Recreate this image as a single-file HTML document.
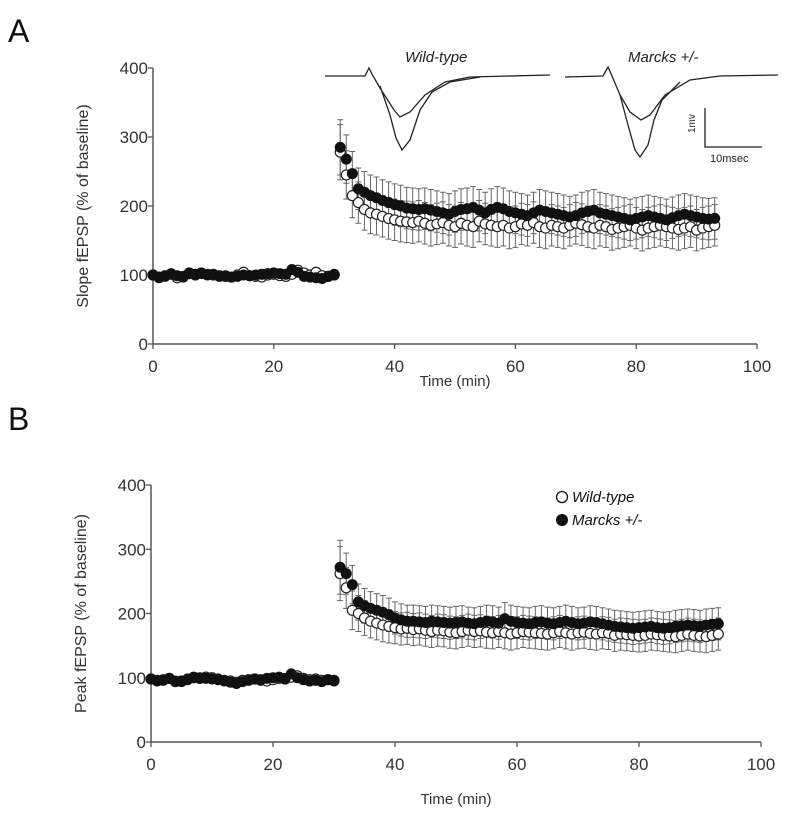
<!DOCTYPE html>
<html><head><meta charset="utf-8"><style>
body{margin:0;background:#fff;}
svg{display:block;font-family:"Liberation Sans",Arial,sans-serif;}
</style></head><body>
<svg id="chart" width="800" height="817" viewBox="0 0 800 817" xmlns="http://www.w3.org/2000/svg">
<text x="8" y="42" font-size="32" fill="#111">A</text>
<text x="8" y="430" font-size="32" fill="#111">B</text>
<g id="traces" fill="none" stroke="#222" stroke-width="1.3">
<text x="405" y="62" font-size="15" font-style="italic" fill="#222" stroke="none">Wild-type</text>
<text x="628" y="62" font-size="15" font-style="italic" fill="#222" stroke="none">Marcks +/-</text>
<path d="M325 76 L365 76 L369 68 L373 76 L380 88 L394 110 L400 117 L410 112 L425 95 L445 82 L470 77 L550 75"/>
<path d="M380 86 L390 115 L396 138 L402 150 L410 140 L420 110 L432 92 L450 82 L480 77"/>
<path d="M565 77 L603 76 L608 67 L612 76 L620 95 L630 112 L641 120 L650 115 L665 95 L690 80 L720 76 L778 75"/>
<path d="M620 95 L628 125 L635 150 L640 157 L648 145 L654 120 L662 100 L680 82"/>
<path d="M705 108 L705 147 L762 147"/>
<text x="695" y="133" font-size="10" fill="#222" stroke="none" transform="rotate(-90 695 133)">1mv</text>
<text x="710" y="162" font-size="11" fill="#222" stroke="none">10msec</text>
</g>
<g id="legend">
<circle cx="562" cy="497" r="5.5" fill="#fff" stroke="#111" stroke-width="1.3"/>
<text x="572" y="502" font-size="15" font-style="italic" fill="#111">Wild-type</text>
<circle cx="562" cy="520" r="6" fill="#111"/>
<text x="572" y="525" font-size="15" font-style="italic" fill="#111">Marcks +/-</text>
</g>
</svg>
<script>
const xTicks=[0,20,40,60,80,100];
const yTicks=[0,100,200,300,400];
const baseTime=[0,1,2,3,4,5,6,7,8,9,10,11,12,13,14,15,16,17,18,19,20,21,22,23,24,25,26,27,28,29,30];
const postTime=[31,32,33,34,35,36,37,38,39,40,41,42,43,44,45,46,47,48,49,50,51,52,53,54,55,56,57,58,59,60,61,62,63,64,65,66,67,68,69,70,71,72,73,74,75,76,77,78,79,80,81,82,83,84,85,86,87,88,89,90,91,92,93];
const aWtBase=[100,97,99,101,96,98,102,100,103,101,100,99,98,97,100,104,99,98,97,100,101,99,98,101,107,103,100,104,99,98,100];
const aMkBase=[100,96,98,102,99,97,103,101,102,100,101,98,99,97,98,100,99,100,101,102,103,102,101,108,104,98,97,96,95,98,101];
const aWtPost=[278,245,215,205,195,190,188,185,182,180,178,177,176,178,175,172,174,176,172,170,175,172,170,178,174,172,170,172,168,170,174,172,176,170,168,172,170,168,172,175,173,170,168,172,170,166,168,170,172,168,165,168,170,172,170,168,166,168,170,165,168,170,172];
const aMkPost=[285,268,247,225,220,215,212,208,205,202,200,197,196,195,196,194,192,190,188,192,195,196,198,194,190,195,198,196,192,190,188,186,190,194,192,190,188,186,184,186,190,192,194,190,188,186,184,182,180,182,184,186,184,182,180,183,186,188,186,184,182,181,182];
const bWtBase=[98,96,97,99,94,95,98,100,99,101,100,98,96,95,93,96,97,98,96,95,97,99,98,101,103,99,97,98,96,97,96];
const bMkBase=[98,95,96,99,95,94,97,101,100,99,98,97,95,93,91,94,96,98,97,99,100,101,99,106,100,97,95,96,94,97,95];
const bWtPost=[262,240,205,200,193,188,185,182,180,178,176,177,175,176,174,172,174,173,171,170,172,174,172,173,171,170,172,170,168,170,172,171,170,169,168,170,172,170,168,170,171,169,168,170,169,166,168,167,166,165,166,168,167,166,165,164,166,168,166,165,164,166,168];
const bMkPost=[272,262,245,218,212,208,205,202,198,193,190,188,188,187,186,188,187,186,185,186,187,185,184,186,188,187,185,192,188,186,185,184,186,187,185,184,186,188,186,184,185,187,186,184,182,180,179,178,177,178,179,180,178,177,178,180,181,182,181,180,182,183,184];
const aErr=[40,35,32,30,30,30,30,30,30,30,30,30,30,30,30,30,30,30,30,30,30,30,30,30,30,30,30,30,30,30,30,30,30,30,30,30,30,30,30,30,30,30,30,30,30,30,30,30,30,30,30,30,30,30,30,30,30,30,30,30,30,30,30];
const bErr=[42,32,30,28,27,26,26,26,26,25,25,25,25,25,25,25,25,25,25,25,25,25,25,25,25,25,25,25,25,25,25,25,25,25,25,25,25,25,25,25,25,25,25,25,25,25,25,25,25,25,25,25,25,25,25,25,25,25,25,25,25,25,25];

const NS="http://www.w3.org/2000/svg";
const svg=document.getElementById('chart');
function mk(tag,attrs,parent){const e=document.createElementNS(NS,tag);for(const k in attrs)e.setAttribute(k,attrs[k]);(parent||svg).appendChild(e);return e;}

function panel(id,x0,x100,y0,y400,wB,mB,wP,mP,err,ylab,titleOff){
  const X=t=>x0+(x100-x0)*t/100, Y=v=>y0+(y400-y0)*v/400;
  const g=mk('g',{});
  
  
  const ax=mk('path',{d:`M${x0} ${Y(400)} L${x0} ${y0} L${X(100)} ${y0}`,stroke:'#555','stroke-width':1.5,fill:'none'},g);
  
  
  xTicks.forEach(t=>{
    const l=mk('line',{x1:X(t),x2:X(t),y1:y0,y2:y0+5,stroke:'#555','stroke-width':1.3},g);
    
    
    const tx=mk('text',{x:X(t),y:y0+28,'font-size':17,'text-anchor':'middle',fill:'#333'},g);tx.textContent=t;
    
    
  });
  yTicks.forEach(v=>{
    const l=mk('line',{x1:x0-5,x2:x0,y1:Y(v),y2:Y(v),stroke:'#555','stroke-width':1.3},g);
    
    
    const tx=mk('text',{x:x0-5,y:Y(v)+6,'font-size':17,'text-anchor':'end',fill:'#333'},g);tx.textContent=v;
    
    
  });
  const xl=mk('text',{x:X(50),y:y0+titleOff,'font-size':15,'text-anchor':'middle',fill:'#333'},g);xl.textContent='Time (min)';
  
  
  const yx=x0-65, yy=Y(200);
  const yl=mk('text',{x:yx,y:yy,'font-size':16,'text-anchor':'middle',fill:'#333',transform:`rotate(-90 ${yx} ${yy})`},g);yl.textContent=ylab;
  
  
  postTime.forEach((t,i)=>{
    [wP[i],mP[i]].forEach(v=>{
      const e=mk('path',{d:`M${X(t)} ${Y(v-err[i])} L${X(t)} ${Y(v+err[i])} M${X(t)-3} ${Y(v+err[i])} L${X(t)+3} ${Y(v+err[i])} M${X(t)-3} ${Y(v-err[i])} L${X(t)+3} ${Y(v-err[i])}`,stroke:'#666','stroke-width':1,fill:'none'},g);
      
      
    });
  });
  baseTime.forEach((t,i)=>{
    const e=mk('line',{x1:X(t),x2:X(t),y1:Y(wB[i]-6),y2:Y(wB[i]+6),stroke:'#555','stroke-width':1},g);
    
    
  });
  const times=baseTime.concat(postTime), wt=wB.concat(wP), mkv=mB.concat(mP);
  times.forEach((t,i)=>{
    const c=mk('circle',{cx:X(t),cy:Y(wt[i]),r:5,fill:'#fff',stroke:'#222','stroke-width':1.2},g);
    
    
  });
  times.forEach((t,i)=>{
    const c=mk('circle',{cx:X(t),cy:Y(mkv[i]),r:5.5,fill:'#111'},g);
    
    
  });
}
panel('panel-a-slope',153,757,344,68,aWtBase,aMkBase,aWtPost,aMkPost,aErr,'Slope fEPSP (% of baseline)',42);
panel('panel-b-peak',151,761,742,485,bWtBase,bMkBase,bWtPost,bMkPost,bErr,'Peak fEPSP (% of baseline)',62);
svg.appendChild(document.getElementById('traces'));
svg.appendChild(document.getElementById('legend'));
</script>
</body></html>
